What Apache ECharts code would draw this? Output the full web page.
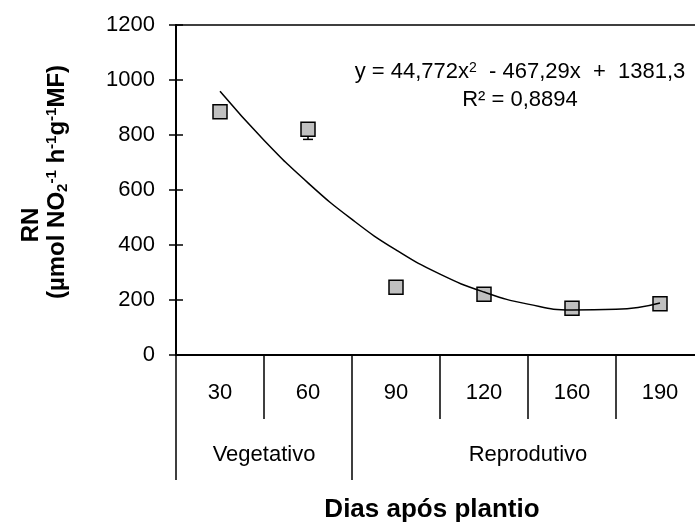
<!DOCTYPE html>
<html>
<head>
<meta charset="utf-8">
<script src="https://cdn.jsdelivr.net/npm/echarts@6/dist/echarts.min.js"></script>
<style>
    html, body { margin: 0; padding: 0; background: #fff; }
    #main { width: 695px; height: 523px; }
</style>
</head>
<body>
<div id="main"></div>
<script>
// days after planting (categories) and phases
var days = ['30', '60', '90', '120', '160', '190'];
var phaseNames = ['Vegetativo', 'Reprodutivo'];
var phaseSpans = [2, 4];

// RN activity
var rnValues = [885, 821, 246, 221, 170, 186];
var rnErrMinus = [0, 37, 0, 0, 0, 0];

// polynomial trend line, read at half-category steps
var trendX = [1, 1.5, 2, 2.5, 3, 3.5, 4, 4.5, 5, 5.5, 6];
var trendY = [959, 781, 626, 493, 382, 294, 229, 185, 164, 166, 189];

(function () {
    var FONT = 'Liberation Sans, Arial, sans-serif';

    var phaseBounds = [0.5];
    var phaseCenters = [];
    var acc = 0.5;
    phaseSpans.forEach(function (n) {
        phaseCenters.push(acc + n / 2);
        acc += n;
        phaseBounds.push(acc);
    });

    var points = rnValues.map(function (v, i) { return [i + 1, v]; });
    var errData = rnValues.map(function (v, i) { return [i + 1, v, v - rnErrMinus[i]]; })
        .filter(function (d) { return d[1] !== d[2]; });
    var trend = trendX.map(function (x, i) { return [x, trendY[i]]; });

    var myChart = echarts.init(document.getElementById('main'));

    var option = {
        backgroundColor: '#fff',
        animation: false,
        textStyle: { fontFamily: FONT },
        grid: {
            left: 176, top: 25, width: 528, height: 330,
            outerBoundsMode: 'none', containLabel: false,
            show: true, borderColor: '#000', borderWidth: 1.5
        },
        graphic: [{
            type: 'text',
            x: 520, y: 72,
            style: {
                text: 'y = 44,772x{sup|2}  - 467,29x  +  1381,3',
                fontFamily: FONT, fontSize: 22, fill: '#000',
                textAlign: 'center', textVerticalAlign: 'middle',
                rich: { sup: { fontSize: 14, verticalAlign: 'top', lineHeight: 22, fontFamily: FONT } }
            }
        }, {
            type: 'text',
            x: 520, y: 100,
            style: {
                text: 'R² = 0,8894', fontFamily: FONT, fontSize: 22, fill: '#000',
                textAlign: 'center', textVerticalAlign: 'middle'
            }
        }],
        xAxis: [{
            type: 'value', min: 0.5, max: 6.5,
            axisLine: { show: true, onZero: false, lineStyle: { color: '#000', width: 2 } },
            axisTick: { show: false }, axisLabel: { show: false }, splitLine: { show: false }
        }, {
            type: 'category', data: days, position: 'bottom', boundaryGap: true,
            axisLine: { show: false },
            axisTick: { show: true, length: 64, lineStyle: { color: '#000', width: 1.5 } },
            axisLabel: { fontSize: 22, color: '#000', margin: 27, fontFamily: FONT },
            splitLine: { show: false }
        }, {
            type: 'value', min: 0.5, max: 6.5, position: 'bottom',
            axisLine: { show: false },
            axisTick: { show: true, customValues: phaseBounds, length: 125, lineStyle: { color: '#000', width: 1.5 } },
            axisLabel: {
                show: true, customValues: phaseCenters, fontSize: 22, color: '#000', margin: 89, fontFamily: FONT,
                formatter: function (v) {
                    var i = phaseCenters.indexOf(v);
                    return i >= 0 ? phaseNames[i] : '';
                }
            },
            splitLine: { show: false },
            name: 'Dias após plantio', nameLocation: 'middle', nameGap: 142,
            nameTextStyle: { fontSize: 26, fontWeight: 'bold', color: '#000', fontFamily: FONT, padding: [0, 16, 0, 0] }
        }],
        yAxis: [{
            type: 'value', min: 0, max: 1200, interval: 200,
            axisLine: { show: true, lineStyle: { color: '#000', width: 2 } },
            axisTick: { show: true, length: 7, lineStyle: { color: '#000', width: 1.5 } },
            axisLabel: {
                fontSize: 22, color: '#000', margin: 21, fontFamily: FONT,
                formatter: function (v) { return String(v); }
            },
            splitLine: { show: false },
            name: '{b|RN}{sp2|}\n{sp|}{b|(µmol NO}{sub|2}{sup|-1}{b| h}{sup|-1}{b|g}{sup|-1}{b|MF)}',
            nameLocation: 'middle', nameRotate: 90, nameGap: 106,
            nameTextStyle: {
                color: '#000', fontFamily: FONT,
                rich: {
                    b: { fontSize: 24, fontWeight: 'bold', lineHeight: 26, fontFamily: FONT, color: '#000' },
                    sp: { width: 16, fontSize: 24, lineHeight: 26 },
                    sp2: { width: 70, fontSize: 24, lineHeight: 26 },
                    sup: { fontSize: 15, fontWeight: 'bold', verticalAlign: 'top', lineHeight: 15, fontFamily: FONT, color: '#000' },
                    sub: { fontSize: 15, fontWeight: 'bold', verticalAlign: 'bottom', lineHeight: 15, fontFamily: FONT, color: '#000' }
                }
            }
        }, {
            type: 'value', min: 0, max: 1200, interval: 200, position: 'left',
            axisLine: { show: false },
            axisTick: { show: true, inside: true, length: 7, lineStyle: { color: '#000', width: 1.5 } },
            axisLabel: { show: false },
            splitLine: { show: false }
        }],
        series: [{
            type: 'custom',
            xAxisIndex: 0, yAxisIndex: 0,
            data: errData,
            z: 1,
            renderItem: function (params, api) {
                var top = api.coord([api.value(0), api.value(1)]);
                var bot = api.coord([api.value(0), api.value(2)]);
                var style = { stroke: '#000', lineWidth: 1.5 };
                return {
                    type: 'group',
                    children: [
                        { type: 'line', shape: { x1: top[0], y1: top[1], x2: bot[0], y2: bot[1] }, style: style },
                        { type: 'line', shape: { x1: bot[0] - 5, y1: bot[1], x2: bot[0] + 5, y2: bot[1] }, style: style }
                    ]
                };
            }
        }, {
            type: 'scatter',
            xAxisIndex: 0, yAxisIndex: 0,
            data: points,
            symbol: 'rect', symbolSize: 14,
            z: 2,
            itemStyle: { color: '#c0c0c0', borderColor: '#000', borderWidth: 1.5, opacity: 1 }
        }, {
            type: 'line',
            xAxisIndex: 0, yAxisIndex: 0,
            data: trend,
            smooth: true, showSymbol: false, symbol: 'none',
            z: 3,
            lineStyle: { color: '#000', width: 1.5 }
        }]
    };

    myChart.setOption(option);
}());
</script>
</body>
</html>
